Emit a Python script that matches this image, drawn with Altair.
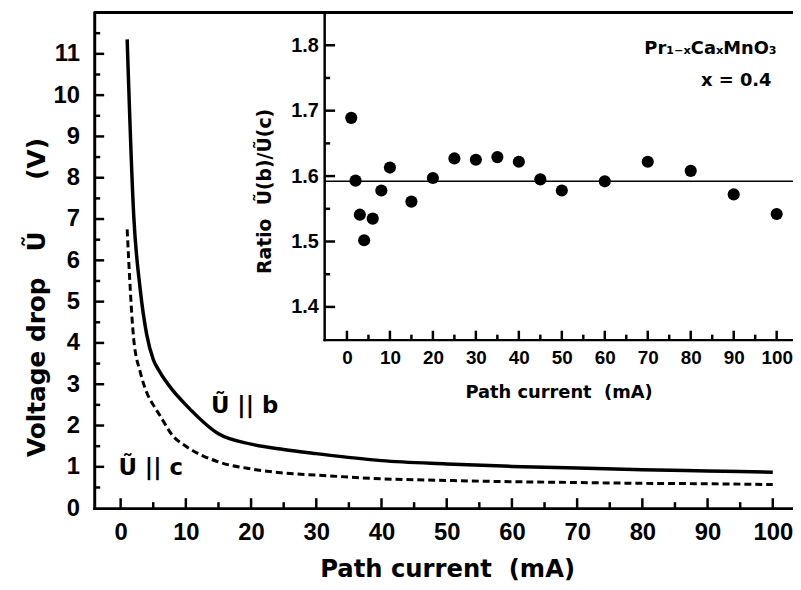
import altair as alt
import pandas as pd

# ---------------- data ----------------
current = [1, 2, 3, 4, 5, 6, 8, 10, 15, 20, 25, 30, 40, 50, 60, 70, 80, 90, 100]
u_b = [11.35, 7.1, 5.3, 4.2, 3.6, 3.3, 2.85, 2.5, 1.8, 1.55, 1.42, 1.32,
       1.15, 1.07, 1.01, 0.97, 0.93, 0.90, 0.87]
u_c = [6.75, 4.1, 3.3, 2.8, 2.5, 2.25, 1.75, 1.5, 1.12, 0.95, 0.85, 0.80,
       0.71, 0.67, 0.64, 0.62, 0.60, 0.59, 0.57]

ratio_current = [1, 2, 3, 4, 6, 8, 10, 15, 20, 25, 30, 35, 40, 45, 50, 60, 70, 80, 90, 100]
ratio = [1.689, 1.593, 1.541, 1.502, 1.535, 1.578, 1.613, 1.561, 1.597, 1.627,
         1.625, 1.629, 1.622, 1.595, 1.578, 1.592, 1.622, 1.608, 1.572, 1.542]
ratio_mean = 1.592

# tick values
main_x_major = [0, 10, 20, 30, 40, 50, 60, 70, 80, 90, 100]
main_x_minor = [5, 15, 25, 35, 45, 55, 65, 75, 85, 95]
main_y_major = [1, 2, 3, 4, 5, 6, 7, 8, 9, 10, 11]
main_y_minor = [0.5, 1.5, 2.5, 3.5, 4.5, 5.5, 6.5, 7.5, 8.5, 9.5, 10.5, 11.5]
main_y_labels = [0, 1, 2, 3, 4, 5, 6, 7, 8, 9, 10, 11]
inset_x_major = main_x_major
inset_x_minor = main_x_minor
inset_y_major = [1.4, 1.5, 1.6, 1.7, 1.8]
inset_y_minor = [1.45, 1.55, 1.65, 1.75]

curve_labels = ["Ũ || b", "Ũ || c"]
curve_label_x = [19, 4.6]
curve_label_y = [2.48, 0.98]

inset_labels = ["Pr₁₋ₓCaₓMnO₃", "x = 0.4"]
inset_label_x = [100, 98.8]
inset_label_y = [1.794, 1.746]

# ---------------- layout ----------------
W, H = 705, 500
FONT = "Liberation Sans"
TFONT = "DejaVu Sans"
NB = "\u00a0"

main_x_dom = [-4.05, 103.1]
main_y_dom = [0, 12]
inset_x_dom = [-5.3, 103.8]
inset_y_dom = [1.35, 1.85]
INSET_LEFT = 232
INSET_BOTTOM = 330


def MX():
    return alt.Scale(domain=main_x_dom, nice=False, zero=False)


def MY():
    return alt.Scale(domain=main_y_dom, nice=False, zero=False)


def IX():
    return alt.Scale(domain=inset_x_dom, range=[INSET_LEFT, W], nice=False, zero=False)


def IY():
    return alt.Scale(domain=inset_y_dom, range=[INSET_BOTTOM, 0], nice=False, zero=False)


# pixel -> data-unit factors, used only to place the inward ticks against the axis lines
MY_PER_PX = (main_y_dom[1] - main_y_dom[0]) / H
MX_PER_PX = (main_x_dom[1] - main_x_dom[0]) / W
IY_PER_PX = (inset_y_dom[1] - inset_y_dom[0]) / INSET_BOTTOM
IX_PER_PX = (inset_x_dom[1] - inset_x_dom[0]) / (W - INSET_LEFT)


def vticks(values, xs, ys, base, length_px, per_px, width=2.5):
    """inward ticks standing on a horizontal axis line (tick marks centred half a length in)"""
    df = pd.DataFrame({"v": values, "c": [base + 0.5 * length_px * per_px] * len(values)})
    return alt.Chart(df).mark_tick(color="black", thickness=width, size=length_px,
                                   orient="vertical", opacity=1).encode(
        x=alt.X("v:Q", scale=xs, axis=None),
        y=alt.Y("c:Q", scale=ys, axis=None))


def hticks(values, xs, ys, base, length_px, per_px, width=2.5):
    """inward ticks on a vertical axis line"""
    df = pd.DataFrame({"v": values, "c": [base + 0.5 * length_px * per_px] * len(values)})
    return alt.Chart(df).mark_tick(color="black", thickness=width, size=length_px,
                                   orient="horizontal", opacity=1).encode(
        y=alt.Y("v:Q", scale=ys, axis=None),
        x=alt.X("c:Q", scale=xs, axis=None))


main_df = pd.DataFrame({"I": current, "b": u_b, "c": u_c})
ratio_df = pd.DataFrame({"I": ratio_current, "r": ratio})
ref_df = pd.DataFrame({"x0": [inset_x_dom[0]], "x1": [inset_x_dom[1]], "y": [ratio_mean]})
top_df = pd.DataFrame({"y": [main_y_dom[1]]})
lab_df = pd.DataFrame({"t": curve_labels, "x": curve_label_x, "y": curve_label_y})
ilab_df = pd.DataFrame({"t": inset_labels, "x": inset_label_x, "y": inset_label_y})

common_axis = dict(grid=False, ticks=False, domainColor="black", domainCap="square",
                   labelColor="black", labelFontWeight="bold", labelOverlap=False,
                   titleColor="black", titleFontWeight="bold", titleFont=TFONT,
                   titleBaseline="middle")

# main solid curve + main axes
l_b = alt.Chart(main_df).mark_line(color="black", strokeWidth=3.5, interpolate="monotone").encode(
    x=alt.X("I:Q", scale=MX(), axis=alt.Axis(
        orient="bottom", values=main_x_major, domainWidth=3, format="d",
        labelFont=FONT, labelFontSize=24, labelPadding=13,
        title="Path current" + NB + NB + "(mA)", titleFontSize=24.5, titleY=62, titleX=356,
        **common_axis)),
    y=alt.Y("b:Q", scale=MY(), axis=alt.Axis(
        orient="left", values=main_y_labels, domainWidth=3, format="d",
        labelFont=FONT, labelFontSize=24, labelPadding=15,
        title="Voltage drop" + NB * 3 + "Ũ" + NB * 6 + "(V)", titleFontSize=25,
        titleX=-58, titleY=287,
        **common_axis)),
)

tick_layers = [
    vticks(main_x_major, MX(), MY(), main_y_dom[0], 10, MY_PER_PX),
    vticks(main_x_minor, MX(), MY(), main_y_dom[0], 6, MY_PER_PX),
    hticks(main_y_major, MX(), MY(), main_x_dom[0], 10, MX_PER_PX),
    hticks(main_y_minor, MX(), MY(), main_x_dom[0], 6, MX_PER_PX),
    vticks(inset_x_major, IX(), IY(), inset_y_dom[0], 9, IY_PER_PX),
    vticks(inset_x_minor, IX(), IY(), inset_y_dom[0], 5, IY_PER_PX),
    hticks(inset_y_major, IX(), IY(), inset_x_dom[0], 11, IX_PER_PX),
    hticks(inset_y_minor, IX(), IY(), inset_x_dom[0], 6, IX_PER_PX),
]

# main dashed curve
l_c = alt.Chart(main_df).mark_line(color="black", strokeWidth=3, strokeDash=[7, 4],
                                   interpolate="monotone").encode(
    x=alt.X("I:Q", scale=MX(), axis=None),
    y=alt.Y("c:Q", scale=MY(), axis=None),
)

# top frame line at the top of the main y domain
l_top = alt.Chart(top_df).mark_rule(color="black", strokeWidth=3).encode(
    y=alt.Y("y:Q", scale=MY(), axis=None),
)

# curve labels
l_lab = alt.Chart(lab_df).mark_text(font=TFONT, fontSize=23, fontWeight="bold",
                                    color="black", align="center", baseline="middle").encode(
    x=alt.X("x:Q", scale=MX(), axis=None),
    y=alt.Y("y:Q", scale=MY(), axis=None),
    text="t:N",
)

# inset points + inset axes
i_pts = alt.Chart(ratio_df).mark_circle(color="black", opacity=1, size=150).encode(
    x=alt.X("I:Q", scale=IX(), axis=alt.Axis(
        orient="bottom", offset=-(H - INSET_BOTTOM), values=inset_x_major, domainWidth=2.5,
        format="d", labelFont=FONT, labelFontSize=19, labelPadding=9,
        title="Path current" + NB + NB + "(mA)", titleFontSize=18, titleY=53,
        **common_axis)),
    y=alt.Y("r:Q", scale=IY(), axis=alt.Axis(
        orient="left", offset=-INSET_LEFT, values=inset_y_major, domainWidth=2.5,
        format=".1f", labelFont=FONT, labelFontSize=20, labelPadding=6,
        title="Ratio" + NB + NB + "Ũ(b)/Ũ(c)", titleFontSize=19,
        titleX=-60, titleY=180,
        **common_axis)),
)

# inset mean line
i_ref = alt.Chart(ref_df).mark_rule(color="black", strokeWidth=1.5).encode(
    x=alt.X("x0:Q", scale=IX(), axis=None),
    x2="x1:Q",
    y=alt.Y("y:Q", scale=IY(), axis=None),
)

# inset annotation
i_lab = alt.Chart(ilab_df).mark_text(font=TFONT, fontSize=18, fontWeight="bold",
                                     color="black", align="right", baseline="middle").encode(
    x=alt.X("x:Q", scale=IX(), axis=None),
    y=alt.Y("y:Q", scale=IY(), axis=None),
    text="t:N",
)

chart = alt.layer(l_b, l_c, l_top, l_lab, i_pts, i_ref, i_lab, *tick_layers).resolve_scale(
    x="independent", y="independent"
).resolve_axis(
    x="independent", y="independent"
).properties(
    width=W, height=H,
    padding={"left": 87, "top": 2, "right": 0, "bottom": 78},
    autosize=alt.AutoSizeParams(type="none"),
    background="white",
).configure_view(strokeWidth=0)

chart.save("out.html", embed_options={"renderer": "svg", "actions": False})
